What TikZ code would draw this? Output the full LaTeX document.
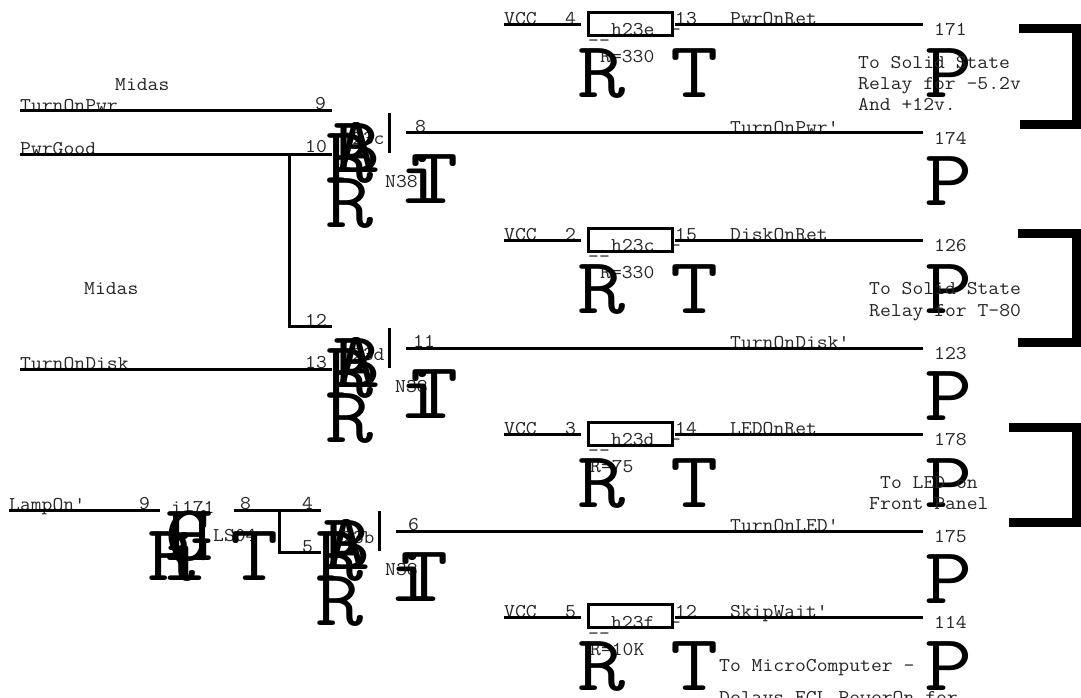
\documentclass[tikz,border=0pt]{standalone}
\usepackage{fontspec}
\setmainfont{Latin Modern Mono}
\newfontfamily\labfam[FakeStretch=1.08]{Latin Modern Mono}
\newfontfamily\bigfam[FakeStretch=1.17]{Latin Modern Mono}
\usepackage{tikz}
\usetikzlibrary{calc}

\tikzset{
    lab/.style={font=\labfam\fontsize{19.5}{19.5}\selectfont, anchor=base west, inner sep=0pt, text=black!85, yshift=-1pt},
    bigch/.style={font=\bigfam\fontsize{80}{80}\selectfont, anchor=base west, inner sep=0pt},
    wire/.style={draw, line width=3pt},
    brack/.style={draw, line width=9pt, miter limit=10},
}

\begin{document}
\begin{tikzpicture}[x=1pt, y=-1pt]
    \useasboundingbox (0,0) rectangle (1081,698);

    % first resistor
    \node[lab] (vcc1) at (504,24) {VCC};
    \node[lab] (pin4) at (565,24) {4};
    \node[lab] (h23e) at (611,35) {h23e};
    \node[lab] (dash1) at (588,46) {-{}-};
    \node[lab] (tick1) at (670,35) {-};
    \node[lab] (pin13) at (675,24) {13};
    \node[lab] (pwrret) at (730,24) {PwrOnRet};
    \node[lab] (r330a) at (600,62) {R=330};
    \node[lab] (p171) at (934,35) {171};
    \node[bigch] (r1) at (577,98) {R};
    \node[bigch] (t1) at (670,98) {T};
    \node[bigch] (p1) at (924,98) {P};
    \node[lab] (solid1) at (858,68) {To Solid State};
    \node[lab] (relay1) at (858,89) {Relay for -5.2v};
    \node[lab] (and1) at (858,110) {And +12v.};
    \coordinate (a1) at (504,25);
    \coordinate (a2) at (581,25);
    \coordinate (a3) at (675,25);
    \coordinate (a4) at (923,25);
    \draw[wire] (a1) -- (a2);
    \draw[wire] (a3) -- (a4);
    \draw[wire] (588,13) rectangle (672,36);

    % Midas side, first gate
    \node[lab] (midas1) at (115,90) {Midas};
    \node[lab] (pwron) at (20,111) {TurnOnPwr};
    \node[lab] (pin9) at (315,109) {9};
    \node[lab] (pgood) at (20,153) {PwrGood};
    \node[lab] (pin10) at (305,152) {10};
    \node[lab] (pin12) at (305,325) {12};
    \node[lab] (j23c) at (341,144) {j23c};
    \node[lab] (n38a) at (385,186) {N38};
    \node[lab] (pin8) at (415,131) {8};
    \node[lab] (pwronp) at (730,132) {TurnOnPwr'};
    \node[lab] (p174) at (934,143) {174};
    \node[bigch] (b1) at (332,172) {B};
    \node[bigch] (f1) at (332,172) {A};
    \node[bigch] (g1) at (325,182) {R};
    \node[bigch] (g2) at (325,227) {R};
    \node[bigch] (t2) at (410,203) {T};
    \node[bigch] (i2) at (398,203) {i};
    \node[bigch] (p2) at (924,205) {P};
    \coordinate (c1) at (20,111);
    \coordinate (c2) at (332,111);
    \coordinate (c3) at (20,154);
    \coordinate (c4) at (332,154);
    \coordinate (c5) at (289,154);
    \coordinate (c6) at (332,326);
    \coordinate (c7) at (389,113);
    \coordinate (c8) at (389,153);
    \coordinate (c9) at (406,133);
    \coordinate (c10) at (923,133);
    \draw[wire] (c1) -- (c2);
    \draw[wire] (c3) -- (c4);
    \draw[wire] (c5) |- (c6);
    \draw[wire] (c7) -- (c8);
    \draw[wire] (c9) -- (c10);

    % second resistor
    \node[lab] (vcc2) at (504,239) {VCC};
    \node[lab] (pin2) at (565,239) {2};
    \node[lab] (h23c) at (611,250) {h23c};
    \node[lab] (dash2) at (588,261) {-{}-};
    \node[lab] (tick2) at (670,250) {-};
    \node[lab] (pin15) at (675,239) {15};
    \node[lab] (diskret) at (730,239) {DiskOnRet};
    \node[lab] (r330b) at (600,277) {R=330};
    \node[lab] (p126) at (934,250) {126};
    \node[bigch] (r3) at (577,313) {R};
    \node[bigch] (t3) at (670,313) {T};
    \node[bigch] (p3) at (924,313) {P};
    \node[lab] (solid2) at (869,293) {To Solid State};
    \node[lab] (relay2) at (869,315) {Relay for T-80};
    \coordinate (d1) at (504,240);
    \coordinate (d2) at (581,240);
    \coordinate (d3) at (675,240);
    \coordinate (d4) at (923,240);
    \draw[wire] (d1) -- (d2);
    \draw[wire] (d3) -- (d4);
    \draw[wire] (588,228) rectangle (672,251);

    % second gate
    \node[lab] (midas2) at (84,293) {Midas};
    \node[lab] (diskon) at (20,368) {TurnOnDisk};
    \node[lab] (pin13b) at (305,367) {13};
    \node[lab] (j23d) at (341,359) {j23d};
    \node[lab] (n38b) at (395,391) {N38};
    \node[lab] (pin11) at (413,346) {11};
    \node[lab] (diskonp) at (730,347) {TurnOnDisk'};
    \node[lab] (p123) at (934,358) {123};
    \node[bigch] (b2) at (332,387) {B};
    \node[bigch] (f2) at (332,387) {A};
    \node[bigch] (g3) at (325,397) {R};
    \node[bigch] (g4) at (325,442) {R};
    \node[bigch] (t4) at (410,418) {T};
    \node[bigch] (i4) at (398,418) {i};
    \node[bigch] (p4) at (924,420) {P};
    \coordinate (e1) at (20,369);
    \coordinate (e2) at (332,369);
    \coordinate (e3) at (389,328);
    \coordinate (e4) at (389,368);
    \coordinate (e5) at (406,348);
    \coordinate (e6) at (923,348);
    \draw[wire] (e1) -- (e2);
    \draw[wire] (e3) -- (e4);
    \draw[wire] (e5) -- (e6);

    % third resistor
    \node[lab] (vcc3) at (504,433) {VCC};
    \node[lab] (pin3) at (565,433) {3};
    \node[lab] (h23d) at (611,444) {h23d};
    \node[lab] (dash3) at (588,455) {-{}-};
    \node[lab] (tick3) at (670,444) {-};
    \node[lab] (pin14) at (675,433) {14};
    \node[lab] (ledret) at (730,433) {LEDOnRet};
    \node[lab] (r75) at (590,471) {R=75};
    \node[lab] (p178) at (934,444) {178};
    \node[bigch] (r5) at (577,507) {R};
    \node[bigch] (t5) at (670,507) {T};
    \node[bigch] (p5) at (924,507) {P};
    \node[lab] (ledon) at (880,487) {To LED on};
    \node[lab] (front) at (869,508) {Front Panel};
    \coordinate (f1a) at (504,434);
    \coordinate (f2a) at (581,434);
    \coordinate (f3a) at (675,434);
    \coordinate (f4a) at (923,434);
    \draw[wire] (f1a) -- (f2a);
    \draw[wire] (f3a) -- (f4a);
    \draw[wire] (588,422) rectangle (672,445);

    % lamp inverter and third gate
    \node[lab] (lamp) at (9,509) {LampOn'};
    \node[lab] (pin9b) at (139,508) {9};
    \node[lab] (i171) at (171,512) {i171};
    \node[lab] (ls04) at (213,540) {LS04};
    \node[lab] (pin8b) at (240,508) {8};
    \node[lab] (pin4b) at (302,508) {4};
    \node[lab] (pin5b) at (302,551) {5};
    \node[lab] (j23b) at (331,542) {j23b};
    \node[lab] (n38c) at (385,574) {N38};
    \node[lab] (pin6) at (408,529) {6};
    \node[lab] (ledonp) at (730,530) {TurnOnLED'};
    \node[lab] (p175) at (934,541) {175};
    \node[bigch] (h6) at (165,560) {H};
    \node[bigch] (c6b) at (165,560) {G};
    \node[bigch] (i6) at (160,580) {i};
    \node[bigch] (r6) at (147,580) {R};
    \node[bigch] (t6) at (230,580) {T};
    \node[bigch] (b6) at (322,569) {B};
    \node[bigch] (f6) at (322,569) {A};
    \node[bigch] (g6) at (315,580) {R};
    \node[bigch] (g7) at (315,625) {R};
    \node[bigch] (t7) at (400,601) {T};
    \node[bigch] (i7) at (388,601) {i};
    \node[bigch] (p6) at (924,603) {P};
    \coordinate (g1a) at (9,510);
    \coordinate (g2a) at (160,510);
    \coordinate (g3a) at (234,510);
    \coordinate (g4a) at (321,510);
    \coordinate (g5a) at (279,510);
    \coordinate (g6a) at (321,552);
    \coordinate (g7a) at (379,511);
    \coordinate (g8a) at (379,551);
    \coordinate (g9a) at (396,531);
    \coordinate (g10a) at (923,531);
    \draw[wire] (g1a) -- (g2a);
    \draw[wire] (g3a) -- (g4a);
    \draw[wire] (g5a) |- (g6a);
    \draw[wire] (g7a) -- (g8a);
    \draw[wire] (g9a) -- (g10a);

    % fourth resistor
    \node[lab] (vcc4) at (504,616) {VCC};
    \node[lab] (pin5) at (565,616) {5};
    \node[lab] (h23f) at (611,627) {h23f};
    \node[lab] (dash4) at (588,638) {-{}-};
    \node[lab] (tick4) at (670,627) {-};
    \node[lab] (pin12b) at (675,616) {12};
    \node[lab] (skip) at (730,616) {SkipWait'};
    \node[lab] (r10k) at (590,654) {R=10K};
    \node[lab] (p114) at (934,627) {114};
    \node[bigch] (r8) at (577,690) {R};
    \node[bigch] (t8) at (670,690) {T};
    \node[bigch] (p8) at (924,690) {P};
    \node[lab] (micro) at (719,670) {To MicroComputer -};
    \node[lab] (delay) at (719,702) {Delays ECL PowerOn for};
    \coordinate (h1a) at (504,617);
    \coordinate (h2a) at (581,617);
    \coordinate (h3a) at (675,617);
    \coordinate (h4a) at (923,617);
    \draw[wire] (h1a) -- (h2a);
    \draw[wire] (h3a) -- (h4a);
    \draw[wire] (588,604) rectangle (672,627);

    % brackets
    \coordinate (k1) at (1019,29);
    \coordinate (k2) at (1076,29);
    \coordinate (k3) at (1076,125);
    \coordinate (k4) at (1020,125);
    \draw[brack] (k1) -- (k2) -- (k3) -- (k4);
    \coordinate (l1) at (1018,233);
    \coordinate (l2) at (1076,233);
    \coordinate (l3) at (1076,342);
    \coordinate (l4) at (1018,342);
    \draw[brack] (l1) -- (l2) -- (l3) -- (l4);
    \coordinate (m1) at (1009,427);
    \coordinate (m2) at (1076,427);
    \coordinate (m3) at (1076,522);
    \coordinate (m4) at (1009,522);
    \draw[brack] (m1) -- (m2) -- (m3) -- (m4);
\end{tikzpicture}
\end{document}
